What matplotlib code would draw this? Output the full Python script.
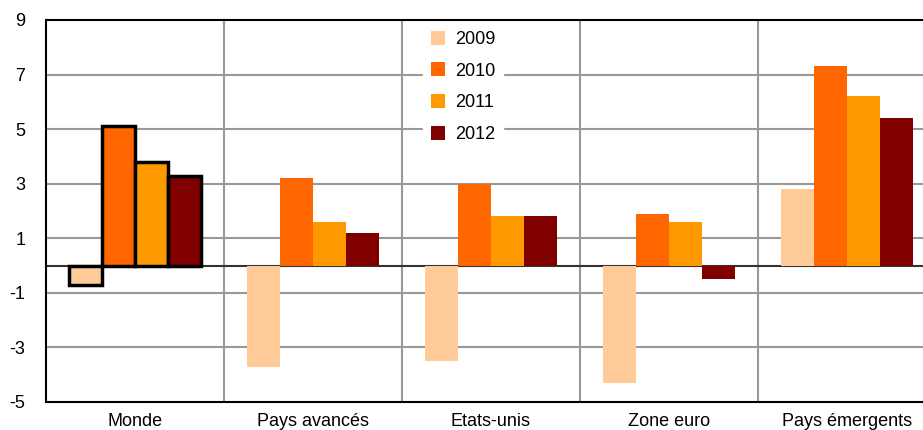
import numpy as np
import matplotlib.pyplot as plt
from matplotlib.patches import Patch

plt.rcParams['font.family'] = ['Liberation Sans', 'DejaVu Sans']

categories = ['Monde', 'Pays avancés', 'Etats-unis', 'Zone euro', 'Pays émergents']
years = ['2009', '2010', '2011', '2012']
v2009 = [-0.7, -3.7, -3.5, -4.3, 2.8]
v2010 = [5.1, 3.2, 3.0, 1.9, 7.3]
v2011 = [3.8, 1.6, 1.8, 1.6, 6.2]
v2012 = [3.3, 1.2, 1.8, -0.5, 5.4]
colors = ['#FFCC99', '#FF6600', '#FF9900', '#800000']
ytick_labels = ['-5', '-3', '-1', '1', '3', '5', '7', '9']

series = [v2009, v2010, v2011, v2012]

fig = plt.figure(figsize=(9.23, 4.30), dpi=100)
ax = fig.add_axes([46 / 923, 28 / 430, 890 / 923, 382 / 430])

x = np.arange(len(categories)) + 0.5
w = 0.185
for i, (vals, c) in enumerate(zip(series, colors)):
    pos = x + (i - 1.5) * w
    bars = ax.bar(pos, vals, width=w, color=c, zorder=3)
    # Monde bars are outlined in black
    bars[0].set_edgecolor('black')
    bars[0].set_linewidth(2.5)

ax.set_xlim(0, 5)
ax.set_ylim(-5, 9)
ax.set_yticks(range(-5, 10, 2))
ax.set_yticklabels(ytick_labels)
ax.set_xticks(x)
ax.set_xticklabels(categories)
ax.tick_params(axis='both', length=0, labelsize=13)
ax.tick_params(axis='y', pad=15)
ax.tick_params(axis='x', pad=8)

for yv in range(-3, 9, 2):
    ax.axhline(yv, color='#999999', lw=1.5, zorder=1)
for xv in range(1, 6):
    ax.axvline(xv, color='#999999', lw=1.5, zorder=1)
ax.axhline(0, color='#333333', lw=1.5, zorder=2)

for s in ['left', 'bottom', 'top']:
    ax.spines[s].set_linewidth(1.5)
    ax.spines[s].set_color('black')
ax.spines['right'].set_visible(False)

handles = [Patch(facecolor=c, edgecolor='none', label=y) for c, y in zip(colors, years)]
leg = ax.legend(handles=handles, loc='upper left', bbox_to_anchor=(0.42, 1.0),
                frameon=True, fontsize=13, handlelength=0.8, handleheight=0.8,
                labelspacing=0.8, borderpad=0.4, handletextpad=0.55,
                borderaxespad=0.2)
leg.get_frame().set_edgecolor('white')
leg.get_frame().set_facecolor('white')
leg.get_frame().set_alpha(1)
leg.get_frame().set_boxstyle('square', pad=0)
leg.set_zorder(5)

fig.savefig('out.png', dpi=100)
